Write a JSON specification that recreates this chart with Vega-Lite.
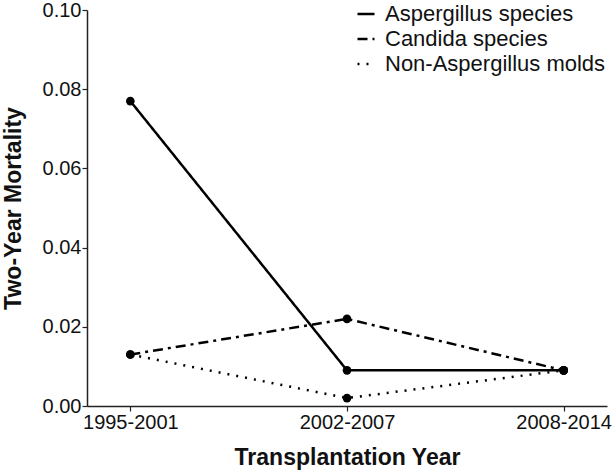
{
  "$schema": "https://vega.github.io/schema/vega-lite/v6.json",
  "width": 520,
  "height": 396,
  "autosize": "none",
  "padding": {"left": 87, "top": 10, "right": 6, "bottom": 65},
  "background": "white",
  "config": {
    "view": {"stroke": null},
    "font": "Liberation Sans",
    "axis": {"grid": false, "domainColor": "#222", "tickColor": "#222", "domainWidth": 1.5, "tickWidth": 1.2, "labelColor": "#111", "titleColor": "#111"}
  },
  "data": {
    "values": [
      {"period": "1995-2001", "species": "Aspergillus species", "mortality": 0.077},
      {"period": "2002-2007", "species": "Aspergillus species", "mortality": 0.009},
      {"period": "2008-2014", "species": "Aspergillus species", "mortality": 0.009},
      {"period": "1995-2001", "species": "Candida species", "mortality": 0.013},
      {"period": "2002-2007", "species": "Candida species", "mortality": 0.022},
      {"period": "2008-2014", "species": "Candida species", "mortality": 0.009},
      {"period": "1995-2001", "species": "Non-Aspergillus molds", "mortality": 0.013},
      {"period": "2002-2007", "species": "Non-Aspergillus molds", "mortality": 0.002},
      {"period": "2008-2014", "species": "Non-Aspergillus molds", "mortality": 0.009}
    ]
  },
  "encoding": {
    "x": {
      "field": "period", "type": "ordinal",
      "scale": {"type": "point", "padding": 0.2},
      "axis": {"title": "Transplantation Year", "labelAngle": 0, "labelFontSize": 20, "titleFontSize": 23, "titleFontWeight": "bold", "titlePadding": 14, "tickSize": 5, "labelPadding": 1}
    },
    "y": {
      "field": "mortality", "type": "quantitative",
      "scale": {"domain": [0, 0.1], "nice": false},
      "axis": {"title": "Two-Year Mortality", "values": [0, 0.02, 0.04, 0.06, 0.08, 0.1], "format": ".2f", "labelFontSize": 20, "titleFontSize": 23, "titleFontWeight": "bold", "titlePadding": 17, "tickSize": 5, "labelPadding": 1}
    }
  },
  "layer": [
    {
      "mark": {"type": "line", "color": "black", "strokeWidth": 2.5},
      "encoding": {
        "strokeDash": {
          "field": "species", "type": "nominal",
          "scale": {"domain": ["Aspergillus species", "Candida species", "Non-Aspergillus molds"], "range": [[1, 0], [10, 5, 3, 5], [2, 7]]},
          "legend": {"title": null, "orient": "none", "legendX": 268, "legendY": -7, "labelFontSize": 22, "labelLimit": 300, "symbolStrokeWidth": 2.5, "symbolSize": 289, "symbolStrokeColor": "black", "rowPadding": 3, "labelOffset": 8, "labelColor": "#111"}
        }
      }
    },
    {
      "mark": {"type": "point", "filled": true, "color": "black", "size": 75, "opacity": 1},
      "encoding": {"detail": {"field": "species"}}
    }
  ]
}
